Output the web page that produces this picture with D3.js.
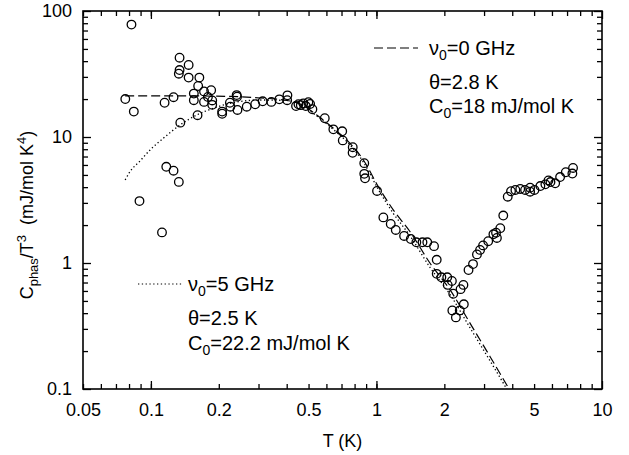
<!DOCTYPE html>
<html>
<head>
<meta charset="utf-8">
<script src="https://cdn.jsdelivr.net/npm/d3@7"></script>
<style>
  html, body { margin: 0; padding: 0; background: #fff; }
  svg { display: block; font-family: "Liberation Sans", Arial, Helvetica, sans-serif; }
</style>
</head>
<body>
<svg id="chart" width="629" height="455"></svg>
<script>
// ---- data ----
const tempK = [0.077,0.082,0.084,0.089,0.112,0.115,0.117,0.126,0.126,0.134,0.134,0.133,0.133,0.135,0.147,0.147,0.155,0.155,0.161,0.162,0.164,0.172,0.172,0.179,0.185,0.187,0.187,0.207,0.207,0.224,0.225,0.240,0.241,0.242,0.266,0.290,0.313,0.342,0.371,0.403,0.402,0.440,0.451,0.462,0.474,0.486,0.499,0.508,0.520,0.590,0.644,0.705,0.709,0.785,0.784,0.883,0.883,0.890,1.006,1.073,1.157,1.218,1.326,1.420,1.503,1.60,1.68,1.80,1.85,1.85,1.94,2.06,2.07,2.16,2.19,2.17,2.25,2.34,2.44,2.36,2.43,2.56,2.68,2.79,2.88,2.97,3.13,3.30,3.39,3.42,3.54,3.65,3.82,3.95,4.13,4.34,4.56,4.80,4.80,5.02,5.33,5.61,5.79,5.91,6.20,6.52,6.91,7.44,7.39];
const cPhas = [20.0,78,15.9,3.1,1.75,18.7,5.8,20.7,5.4,42.6,34.0,31.8,4.4,13.0,37.3,29.6,22.1,19.6,14.9,25.4,29.6,23.0,19.0,20.8,23.5,19.5,18.0,15.9,15.3,18.7,17.4,21.5,20.9,16.4,17.4,18.2,19.2,19.0,19.9,21.4,19.6,17.6,18.2,17.9,18.5,17.6,18.9,18.3,16.6,14.1,11.5,11.1,9.4,8.3,7.5,6.2,5.1,4.7,3.73,2.30,2.04,1.83,1.64,1.55,1.46,1.46,1.46,1.36,1.06,0.82,0.77,0.77,0.67,0.72,0.57,0.42,0.37,0.42,0.47,0.62,0.67,0.88,0.98,1.17,1.27,1.38,1.49,1.69,1.74,1.58,1.89,2.38,3.36,3.71,3.80,3.87,3.80,3.96,3.68,3.80,4.08,4.21,4.52,4.39,4.29,4.81,5.25,5.68,5.13];

// fit curve nu0 = 0 GHz (dashed)
const fit0T = [0.0769,0.1346,0.2244,0.3048,0.4015,0.4585,0.5437,0.6442,0.7638,0.875,1.0198,1.189,1.410,1.729,2.121,2.602,3.191,3.874];
const fit0C = [21.2,21.2,21.0,20.4,19.5,18.3,14.95,11.72,8.91,6.57,4.03,2.63,1.77,0.995,0.611,0.332,0.1805,0.1];
// fit curve nu0 = 5 GHz (dotted)
const fit5T = [0.0769,0.0808,0.0895,0.0991,0.1135,0.1346,0.1597,0.1891,0.2244,0.3048,0.4015,0.4585,0.5437,0.6442,0.7638,0.875,1.0198,1.189,1.410,1.729,2.121,2.602,3.191,3.784];
const fit5C = [4.56,5.31,6.45,7.89,9.77,12.45,14.95,16.9,18.5,19.66,19.5,18.1,14.68,11.47,8.64,6.33,3.83,2.47,1.64,0.921,0.562,0.305,0.167,0.1];

const xTickLabels = [0.05,0.1,0.2,0.5,1,2,5,10];
const xMajorTicks = [0.1,1,10];
const yTickLabels = [0.1,1,10,100];
const xTitle = "T (K)";

// ---- layout ----
const svg = d3.select("#chart");
const L = 83, R = 602, T = 11, B = 389;
const x = d3.scaleLog().domain([0.05, 10]).range([L, R]);
const y = d3.scaleLog().domain([0.1, 100]).range([B, T]);

const xMinor = [];
[0.01, 0.1, 1].forEach(dec => { for (let k = 1; k <= 9; k++) { const v = +(k*dec).toPrecision(3); if (v >= 0.05 && v <= 10) xMinor.push(v); } });
const yMinor = [];
[0.1, 1, 10].forEach(dec => { for (let k = 2; k <= 9; k++) yMinor.push(+(k*dec).toPrecision(3)); });

function tickAxis(axisFn, scale, vals, size) {
  return axisFn(scale).tickValues(vals).tickFormat("").tickSize(size).tickSizeOuter(0);
}
const axesG = svg.append("g").attr("class", "axes");
axesG.append("g").attr("transform", `translate(0,${B})`).call(tickAxis(d3.axisBottom, x, xMinor, -5));
axesG.append("g").attr("transform", `translate(0,${B})`).call(tickAxis(d3.axisBottom, x, xMajorTicks, -8));
axesG.append("g").attr("transform", `translate(0,${T})`).call(tickAxis(d3.axisTop, x, xMinor, -5));
axesG.append("g").attr("transform", `translate(0,${T})`).call(tickAxis(d3.axisTop, x, xMajorTicks, -8));
axesG.append("g").attr("transform", `translate(${L},0)`).call(tickAxis(d3.axisLeft, y, yMinor, -5));
axesG.append("g").attr("transform", `translate(${L},0)`).call(tickAxis(d3.axisLeft, y, yTickLabels, -8));
axesG.append("g").attr("transform", `translate(${R},0)`).call(tickAxis(d3.axisRight, y, yMinor, -5));
axesG.append("g").attr("transform", `translate(${R},0)`).call(tickAxis(d3.axisRight, y, yTickLabels, -8));
axesG.selectAll(".domain").remove();
axesG.selectAll(".tick line").attr("stroke", "#000").attr("stroke-width", 1.3);

const xLab = svg.append("g").attr("transform", `translate(0,${B})`)
  .call(d3.axisBottom(x).tickValues(xTickLabels).tickFormat(d => String(d)).tickSize(0).tickPadding(14));
xLab.select(".domain").remove();
xLab.selectAll("text").attr("font-size", 18).attr("fill", "#000").attr("font-family", "Liberation Sans, Arial, sans-serif");
const yLab = svg.append("g").attr("transform", `translate(${L},0)`)
  .call(d3.axisLeft(y).tickValues(yTickLabels).tickFormat(d => String(d)).tickSize(0).tickPadding(11));
yLab.select(".domain").remove();
yLab.selectAll("text").attr("font-size", 18).attr("fill", "#000").attr("font-family", "Liberation Sans, Arial, sans-serif");

svg.append("rect").attr("x", L).attr("y", T).attr("width", R - L).attr("height", B - T)
  .attr("fill", "none").attr("stroke", "#000").attr("stroke-width", 1.6);

svg.append("clipPath").attr("id", "clip").append("rect").attr("x", L).attr("y", T).attr("width", R - L).attr("height", B - T);

const line = d3.line().x(d => x(d[0])).y(d => y(d[1])).curve(d3.curveMonotoneX);
const plot = svg.append("g").attr("clip-path", "url(#clip)");
plot.append("path").datum(fit0T.map((t, i) => [t, fit0C[i]]))
  .attr("d", line).attr("fill", "none").attr("stroke", "#000").attr("stroke-width", 1.2).attr("stroke-dasharray", "9,4");
plot.append("path").datum(fit5T.map((t, i) => [t, fit5C[i]]))
  .attr("d", line).attr("fill", "none").attr("stroke", "#000").attr("stroke-width", 1.3).attr("stroke-dasharray", "1.3,2.5");

plot.selectAll("circle.pt").data(tempK.map((t, i) => [t, cPhas[i]])).enter().append("circle")
  .attr("class", "pt").attr("cx", d => x(d[0])).attr("cy", d => y(d[1])).attr("r", 4.3)
  .attr("fill", "none").attr("stroke", "#000").attr("stroke-width", 1.3);

svg.append("text").attr("x", (L + R) / 2).attr("y", 447).attr("text-anchor", "middle")
  .attr("font-size", 18).text(xTitle);

const yt = svg.append("text").attr("transform", "translate(33,215) rotate(-90)")
  .attr("text-anchor", "middle").attr("font-size", 18);
yt.append("tspan").text("C");
yt.append("tspan").attr("font-size", 13).attr("dy", 5).text("phas");
yt.append("tspan").attr("dy", -5).text("/T");
yt.append("tspan").attr("font-size", 13).attr("dy", -7).text("3");
yt.append("tspan").attr("dy", 7).text("\u00a0\u00a0(mJ/mol K");
yt.append("tspan").attr("font-size", 13).attr("dy", -7).text("4");
yt.append("tspan").attr("dy", 7).text(")");

function legendBlock(lx1, lx2, ly, dash, tx, lines, nuTxt) {
  svg.append("line").attr("x1", lx1).attr("x2", lx2).attr("y1", ly).attr("y2", ly)
    .attr("stroke", "#000").attr("stroke-width", 1.2).attr("stroke-dasharray", dash);
  const t1 = svg.append("text").attr("x", tx).attr("y", ly + 7).attr("font-size", 20);
  t1.append("tspan").text("\u03bd");
  t1.append("tspan").attr("font-size", 14).attr("dy", 5).text("0");
  t1.append("tspan").attr("dy", -5).text(nuTxt);
  svg.append("text").attr("x", tx).attr("y", lines[0]).attr("font-size", 20).text(lines[2]);
  const t3 = svg.append("text").attr("x", tx).attr("y", lines[1]).attr("font-size", 20);
  t3.append("tspan").text("C");
  t3.append("tspan").attr("font-size", 14).attr("dy", 5).text("0");
  t3.append("tspan").attr("dy", -5).text(lines[3]);
}
legendBlock(374, 418, 48, "9,4", 429, [89, 113, "\u03b8=2.8 K", "=18 mJ/mol K"], "=0 GHz");
legendBlock(138, 183, 284, "1.3,2.5", 188, [325, 350, "\u03b8=2.5 K", "=22.2 mJ/mol K"], "=5 GHz");
</script>
</body>
</html>
